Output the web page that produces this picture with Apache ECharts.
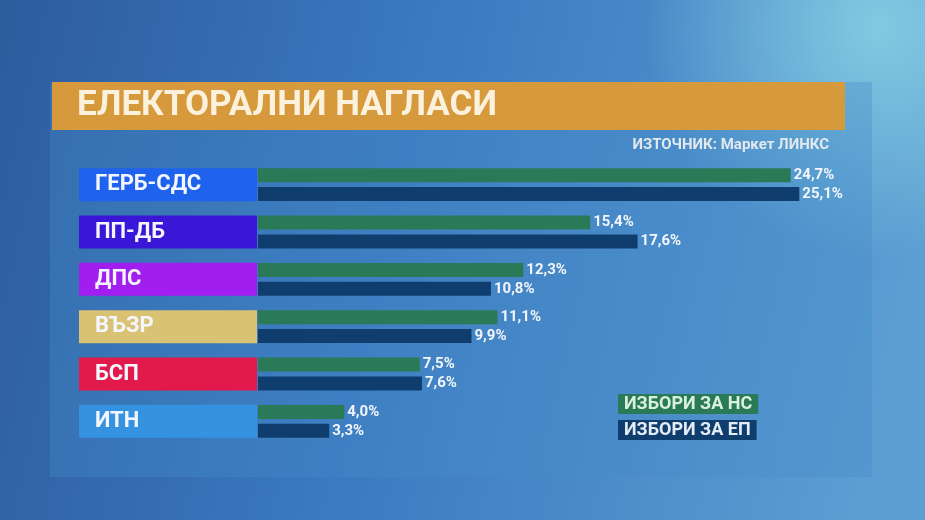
<!DOCTYPE html>
<html>
<head>
<meta charset="utf-8">
<script src="https://cdn.jsdelivr.net/npm/echarts@6/dist/echarts.min.js"></script>
<style>
  html, body { margin: 0; padding: 0; }
  #chart { width: 925px; height: 520px; }
</style>
</head>
<body>
<div id="chart"></div>
<script>
// данни
var parties = ['ГЕРБ-СДС', 'ПП-ДБ', 'ДПС', 'ВЪЗР', 'БСП', 'ИТН'];
var partyColors = ['#1f62ee', '#3a17d6', '#a21ef0', '#d9c274', '#e2194b', '#3592e0'];
var nsValues = [24.7, 15.4, 12.3, 11.1, 7.5, 4.0];
var epValues = [25.1, 17.6, 10.8, 9.9, 7.6, 3.3];
var seriesNames = ['ИЗБОРИ ЗА НС', 'ИЗБОРИ ЗА ЕП'];
var seriesColors = ['#2a7a57', '#0f3e6e'];

var myChart = echarts.init(document.getElementById('chart'));

var rich = {};
for (var i = 0; i < parties.length; i++) {
    rich['p' + i] = {
        backgroundColor: partyColors[i],
        color: '#f4f6ff',
        fontFamily: 'Roboto',
        fontWeight: 'bold',
        fontSize: 22,
        width: 162,
        height: 33,
        lineHeight: 33,
        padding: [0, 0, 0, 16],
        align: 'left'
    };
}

var fmt = function (p) {
    return p.value.toFixed(1).replace('.', ',') + '%';
};

var option = {
    backgroundColor: {
        type: 'linear', x: 0, y: 0, x2: 1, y2: 0.4,
        colorStops: [
            { offset: 0, color: '#2d5c9e' },
            { offset: 0.45, color: '#3b79c0' },
            { offset: 1, color: '#5c9dd2' }
        ]
    },
    graphic: [
        {
            type: 'rect', z: -2,
            shape: { x: 0, y: 0, width: 925, height: 520 },
            style: {
                fill: {
                    type: 'radial', x: 0.95, y: 0.05, r: 0.45,
                    colorStops: [
                        { offset: 0, color: 'rgba(140,215,230,0.8)' },
                        { offset: 1, color: 'rgba(140,215,230,0)' }
                    ]
                }
            }
        },
        {
            type: 'rect', z: -1,
            shape: { x: 50, y: 82, width: 822, height: 395 },
            style: { fill: 'rgba(70,140,200,0.35)' }
        },
        {
            type: 'rect', z: 0,
            shape: { x: 52, y: 82, width: 793, height: 48 },
            style: { fill: '#d6993b' }
        }
    ],
    title: [
        {
            text: 'ЕЛЕКТОРАЛНИ НАГЛАСИ',
            left: 72, top: 84,
            textStyle: { color: '#fbf1dc', fontFamily: 'Roboto', fontWeight: 'bold', fontSize: 35 }
        },
        {
            text: 'ИЗТОЧНИК: Маркет ЛИНКС',
            right: 91, top: 133,
            textStyle: { color: '#e2e8ee', fontFamily: 'Roboto', fontWeight: 'bold', fontSize: 15 }
        }
    ],
    legend: {
        orient: 'vertical',
        left: 608, top: 389,
        itemGap: 6,
        itemWidth: 0, itemHeight: 0,
        selectedMode: false,
        data: [
            { name: seriesNames[0], icon: 'none',
              textStyle: { backgroundColor: seriesColors[0], color: '#d8f0dc', padding: [1, 6, 0, 6] } },
            { name: seriesNames[1], icon: 'none',
              textStyle: { backgroundColor: seriesColors[1], color: '#e4ecf5', padding: [1, 6, 0, 6] } }
        ],
        textStyle: { fontFamily: 'Roboto', fontWeight: 'bold', fontSize: 18, lineHeight: 19 }
    },
    grid: { left: 258, top: 161, width: 647, height: 284 },
    xAxis: { type: 'value', min: 0, max: 30, show: false },
    yAxis: {
        type: 'category',
        data: parties,
        inverse: true,
        axisLine: { show: false },
        axisTick: { show: false },
        axisLabel: {
            margin: 1,
            formatter: function (value, index) {
                return '{p' + index + '|' + value + '}';
            },
            rich: rich
        }
    },
    series: [
        {
            name: seriesNames[0], type: 'bar', data: nsValues,
            barWidth: 14, barGap: '35%',
            itemStyle: { color: seriesColors[0] },
            label: { show: true, position: 'right', distance: 3, formatter: fmt,
                     color: '#f2f5fa', fontFamily: 'Roboto', fontWeight: 'bold', fontSize: 15 }
        },
        {
            name: seriesNames[1], type: 'bar', data: epValues,
            barWidth: 14,
            itemStyle: { color: seriesColors[1] },
            label: { show: true, position: 'right', distance: 3, formatter: fmt,
                     color: '#f2f5fa', fontFamily: 'Roboto', fontWeight: 'bold', fontSize: 15 }
        }
    ]
};

myChart.setOption(option);
</script>
</body>
</html>
